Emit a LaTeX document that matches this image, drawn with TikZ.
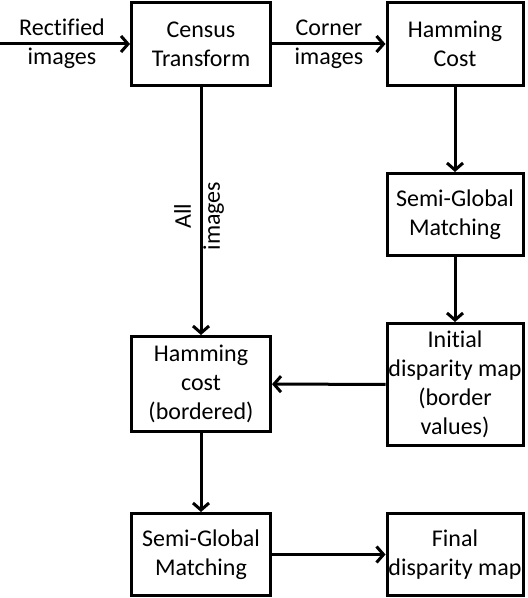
\documentclass[tikz,border=0pt]{standalone}
\usepackage{fontspec}
\setmainfont[Ligatures=NoCommon]{Carlito}
\usetikzlibrary{arrows.meta}
\begin{document}
\begin{tikzpicture}[x=1pt,y=1pt,
  box/.style={draw,line width=3pt,align=center,inner sep=0pt,font=\fontsize{24}{29}\selectfont},
  lbl/.style={align=center,inner sep=0pt,font=\fontsize{24}{29}\selectfont},
  conn/.style={line width=3pt,-{Straight Barb[length=7pt,width=16pt,line width=3pt]}}]
\useasboundingbox (0,0) rectangle (528,598);
\node[box,minimum width=139pt,minimum height=83pt] (census) at (201,554) {Census\\Transform};
\node[box,minimum width=136pt,minimum height=83pt] (ham) at (455,554) {Hamming\\Cost};
\node[box,minimum width=136pt,minimum height=82pt] (sgm1) at (455,383.5) {Semi-Global\\Matching};
\node[box,minimum width=136pt,minimum height=122pt] (init) at (455,213.5) {Initial\\disparity map\\(border\\values)};
\node[box,minimum width=139pt,minimum height=95pt] (hamb) at (201,214) {Hamming\\cost\\(bordered)};
\node[box,minimum width=139pt,minimum height=82pt] (sgm2) at (201,43.5) {Semi-Global\\Matching};
\node[box,minimum width=136pt,minimum height=82pt] (final) at (455,43.5) {Final\\disparity map};
\coordinate (in) at (0,554);
\draw[conn] (in) -- (census);
\node[lbl] (lrect) at (62,554) {Rectified\\images};
\draw[conn] (census) -- (ham);
\node[lbl] (lcorner) at (329,554) {Corner\\images};
\draw[conn] (ham) -- (sgm1);
\draw[conn] (sgm1) -- (init);
\draw[conn] (census) -- (hamb);
\node[lbl,rotate=90] (lall) at (199,382) {All\\images};
\draw[conn] (init) -- (hamb);
\draw[conn] (hamb) -- (sgm2);
\draw[conn] (sgm2) -- (final);
\end{tikzpicture}
\end{document}
